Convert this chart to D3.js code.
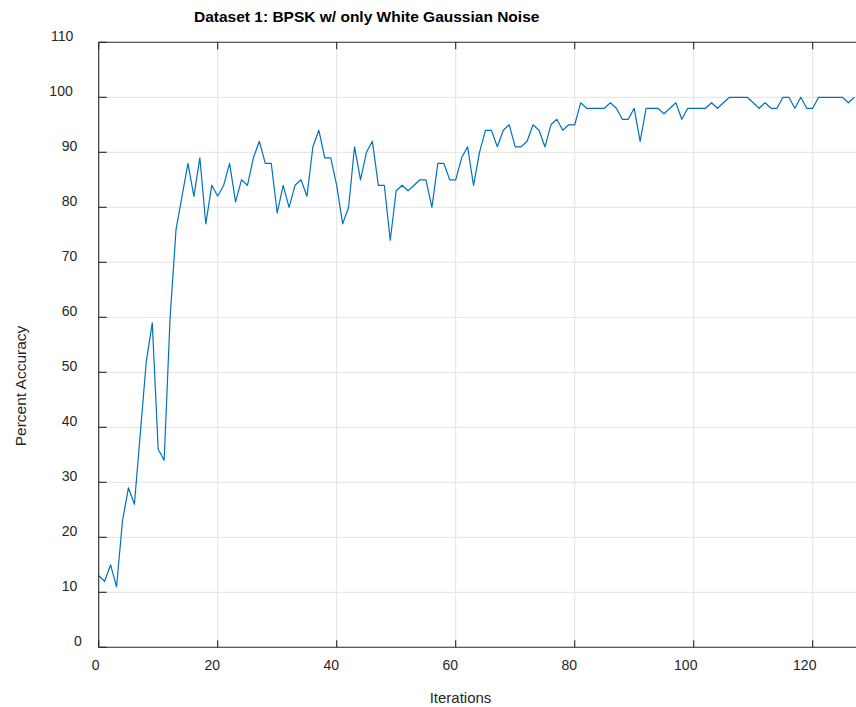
<!DOCTYPE html>
<html><head><meta charset="utf-8">
<script src="https://cdn.jsdelivr.net/npm/d3@7"></script>
<style>body{margin:0;background:#fff;overflow:hidden}svg{display:block}</style>
</head><body>
<script>
const title = "Dataset 1: BPSK w/ only White Gaussian Noise";
const xLabel = "Iterations";
const yLabel = "Percent Accuracy";
const xTicks = [0, 20, 40, 60, 80, 100, 120];
const yTicks = [0, 10, 20, 30, 40, 50, 60, 70, 80, 90, 100, 110];
const accuracy = [
 13,12,15,11,23,29,26,39,52,59,36,34,60,76,82,88,82,89,77,84,
 82,84,88,81,85,84,89,92,88,88,79,84,80,84,85,82,91,94,89,89,
 84,77,80,91,85,90,92,84,84,74,83,84,83,84,85,85,80,88,88,85,
 85,89,91,84,90,94,94,91,94,95,91,91,92,95,94,91,95,96,94,95,
 95,99,98,98,98,98,99,98,96,96,98,92,98,98,98,97,98,99,96,98,
 98,98,98,99,98,99,100,100,100,100,99,98,99,98,98,100,100,98,100,98,
 98,100,100,100,100,100,99,100];
const iterations = accuracy.map((d, i) => i);

const W = 856, H = 707;
const x0 = 98.7, yBottom = 647.3, yTop = 42.3;
const svg = d3.select("body").append("svg").attr("width", W).attr("height", H);
const x = d3.scaleLinear().domain([0, 128]).range([x0, x0 + 128 * 5.95]);
const y = d3.scaleLinear().domain([0, 110]).range([yBottom, yTop]);
const font = "'Liberation Sans', Arial, Helvetica, sans-serif";
const axisCol = "#262626";
const xRight = x(128);

// gridlines
const g = svg.append("g");
g.selectAll("line.gx").data(xTicks.filter(t => t > 0)).enter().append("line")
  .attr("x1", d => x(d)).attr("x2", d => x(d)).attr("y1", yTop).attr("y2", yBottom)
  .attr("stroke", "#e3e3e3").attr("stroke-width", 1);
g.selectAll("line.gy").data(yTicks.filter(t => t > 0 && t < 110)).enter().append("line")
  .attr("x1", x0).attr("x2", xRight).attr("y1", d => y(d)).attr("y2", d => y(d))
  .attr("stroke", "#e3e3e3").attr("stroke-width", 1);

// data line
const line = d3.line().x((d, i) => x(iterations[i])).y(d => y(d));
svg.append("path").datum(accuracy).attr("d", line)
  .attr("fill", "none").attr("stroke", "#0072BD").attr("stroke-width", 1.2)
  .attr("stroke-linejoin", "round");

// axes
const axG = svg.append("g").attr("stroke", axisCol).attr("stroke-width", 1.1);
axG.append("line").attr("x1", x0).attr("x2", xRight).attr("y1", yBottom).attr("y2", yBottom);
axG.append("line").attr("x1", x0).attr("x2", xRight).attr("y1", yTop).attr("y2", yTop);
axG.append("line").attr("x1", x0).attr("x2", x0).attr("y1", yTop).attr("y2", yBottom);
// ticks inward
axG.selectAll("line.tx").data(xTicks).enter().append("line")
  .attr("x1", d => x(d)).attr("x2", d => x(d)).attr("y1", yBottom).attr("y2", yBottom - 7);
axG.selectAll("line.tx2").data(xTicks).enter().append("line")
  .attr("x1", d => x(d)).attr("x2", d => x(d)).attr("y1", yTop).attr("y2", yTop + 7);
axG.selectAll("line.ty").data(yTicks).enter().append("line")
  .attr("x1", x0).attr("x2", x0 + 8).attr("y1", d => y(d)).attr("y2", d => y(d));

// tick labels
svg.selectAll("text.xl").data(xTicks).enter().append("text")
  .attr("y", yBottom + 23)
  .attr("text-anchor", "start").attr("font-family", font).attr("font-size", 14)
  .attr("fill", axisCol).text(d => d)
  .each(function(d) {
    const w = this.getComputedTextLength();
    d3.select(this).attr("x", x(d) - 0.7 - 0.31 * w - w / 2);
  });
svg.selectAll("text.yl").data(yTicks).enter().append("text")
  .attr("y", d => y(d) - 1)
  .attr("text-anchor", "start").attr("font-family", font).attr("font-size", 14)
  .attr("fill", axisCol).text(d => d)
  .each(function(d) {
    const w = this.getComputedTextLength();
    d3.select(this).attr("x", 86.5 - 1.59 * w);
  });

// labels
svg.append("text").attr("x", 366.7).attr("y", 21.7).attr("text-anchor", "middle")
  .attr("font-family", font).attr("font-size", 15.5).attr("font-weight", "bold")
  .attr("fill", "#000").text(title);
svg.append("text").attr("x", 460.5).attr("y", 703.3).attr("text-anchor", "middle")
  .attr("font-family", font).attr("font-size", 15).attr("fill", axisCol).text(xLabel);
svg.append("text").attr("transform", "translate(25.5,386) rotate(-90)").attr("text-anchor", "middle")
  .attr("font-family", font).attr("font-size", 15.5).attr("fill", axisCol).text(yLabel);
</script>
</body></html>
